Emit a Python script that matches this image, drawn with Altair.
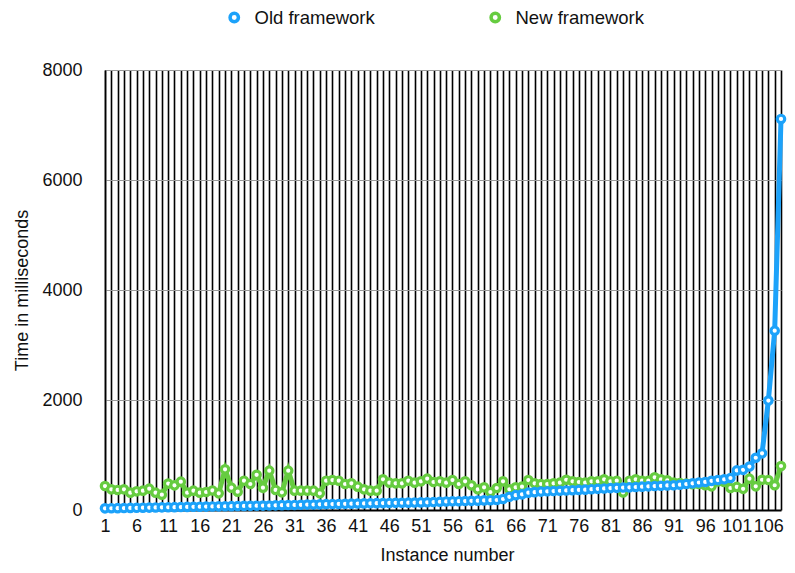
import altair as alt
import pandas as pd

instances = list(range(1, 109))

old_ms = [
    30, 32, 34, 36, 38, 40, 42, 44, 46, 48,
    50, 52, 54, 56, 58, 60, 62, 64, 66, 68,
    70, 72, 74, 76, 78, 80, 82, 85, 88, 90,
    92, 95, 98, 100, 103, 106, 108, 110, 112, 115,
    118, 120, 122, 124, 126, 128, 130, 132, 134, 136,
    138, 140, 145, 150, 155, 158, 160, 163, 166, 170,
    175, 178, 182, 200, 240, 270, 285, 315, 325, 335,
    340, 345, 350, 355, 360, 365, 370, 378, 385, 392,
    398, 403, 408, 412, 418, 424, 430, 436, 440, 446,
    450, 460, 472, 485, 500, 510, 530, 545, 558, 582,
    720, 730, 790, 950, 1030, 1990, 3260, 7110,
]

new_ms = [
    436, 376, 364, 376, 315, 339, 352, 388, 315, 279,
    480, 448, 515, 315, 352, 315, 327, 355, 303, 739,
    406, 333, 533, 473, 640, 406, 715, 364, 321, 715,
    352, 352, 352, 352, 303, 533, 545, 533, 473, 485,
    424, 376, 352, 352, 557, 497, 485, 485, 533, 497,
    521, 570, 509, 521, 497, 545, 473, 521, 448, 376,
    412, 327, 400, 521, 376, 412, 424, 545, 485, 473,
    473, 485, 497, 550, 521, 509, 497, 521, 521, 557,
    521, 533, 320, 533, 557, 533, 533, 594, 558, 540,
    500, 490, 480, 470, 473, 450, 430, 520, 510, 400,
    420, 385, 570, 430, 550, 545, 450, 800,
]

series_names = ["Old framework", "New framework"]
series_colors = ["#1CA2FA", "#66CC40"]
y_ticks = [0, 2000, 4000, 6000, 8000]

rows = []
for i, v in zip(instances, old_ms):
    rows.append({"instance": i, "ms": v, "series": series_names[0]})
for i, v in zip(instances, new_ms):
    rows.append({"instance": i, "ms": v, "series": series_names[1]})
df = pd.DataFrame(rows)

FONT = "Liberation Sans"

x_enc = alt.X(
    "instance:Q",
    scale=alt.Scale(domain=[1, 108], nice=False, zero=False),
    axis=alt.Axis(
        values=instances,
        labelExpr="(datum.value - 1) % 5 == 0 ? datum.label : ''",
        labelOverlap=False,
        labelFlush=False,
        ticks=False,
        grid=True,
        gridColor="#000000",
        gridWidth=1.6,
        gridOpacity=1,
        domainColor="#000000",
        domainWidth=2,
        labelPadding=7,
        title="Instance number",
        titleX=342,
        titleY=45,
        titleBaseline="middle",
        titleAlign="center",
    ),
)

y_enc = alt.Y(
    "ms:Q",
    scale=alt.Scale(domain=[0, 8000], nice=False),
    axis=alt.Axis(
        values=y_ticks,
        format="d",
        ticks=False,
        grid=True,
        gridColor="#9a9a9a",
        gridWidth=1,
        domainColor="#000000",
        domainWidth=1.5,
        labelPadding=23,
        title="Time in milliseconds",
        titleX=-83,
        titleY=220,
        titleAngle=270,
        titleBaseline="middle",
        titleAlign="center",
    ),
)

color_enc = alt.Color(
    "series:N",
    scale=alt.Scale(domain=series_names, range=series_colors),
    legend=alt.Legend(
        orient="none",
        legendX=120,
        legendY=-62,
        direction="horizontal",
        title=None,
        symbolType="circle",
        symbolSize=70,
        symbolStrokeWidth=3.5,
        symbolFillColor="white",
        labelFontSize=18.5,
        labelFont=FONT,
        labelColor="#111111",
        labelOffset=11,
        columnPadding=109,
    ),
)

base = alt.Chart(df).encode(x=x_enc, y=y_enc, color=color_enc)


def series_layers(name):
    sub = base.transform_filter(alt.datum.series == name)
    line = sub.mark_line(strokeWidth=5)
    pts = sub.mark_point(shape="circle", filled=False, fill="white",
                         fillOpacity=1, opacity=1, size=55, strokeWidth=3.2)
    return [line, pts]


chart = alt.layer(
    *series_layers("New framework"),
    *series_layers("Old framework"),
).properties(
    width=676,
    height=440,
    autosize=alt.AutoSizeParams(type="none"),
    padding={"left": 97, "top": 62, "right": 6, "bottom": 55},
).configure_axis(
    labelFont=FONT,
    labelFontSize=18,
    labelColor="#111111",
    titleFont=FONT,
    titleFontSize=18,
    titleFontWeight="normal",
    titleColor="#111111",
).configure_view(stroke=None)

chart.save("out.html", embed_options={"renderer": "svg", "actions": False})
